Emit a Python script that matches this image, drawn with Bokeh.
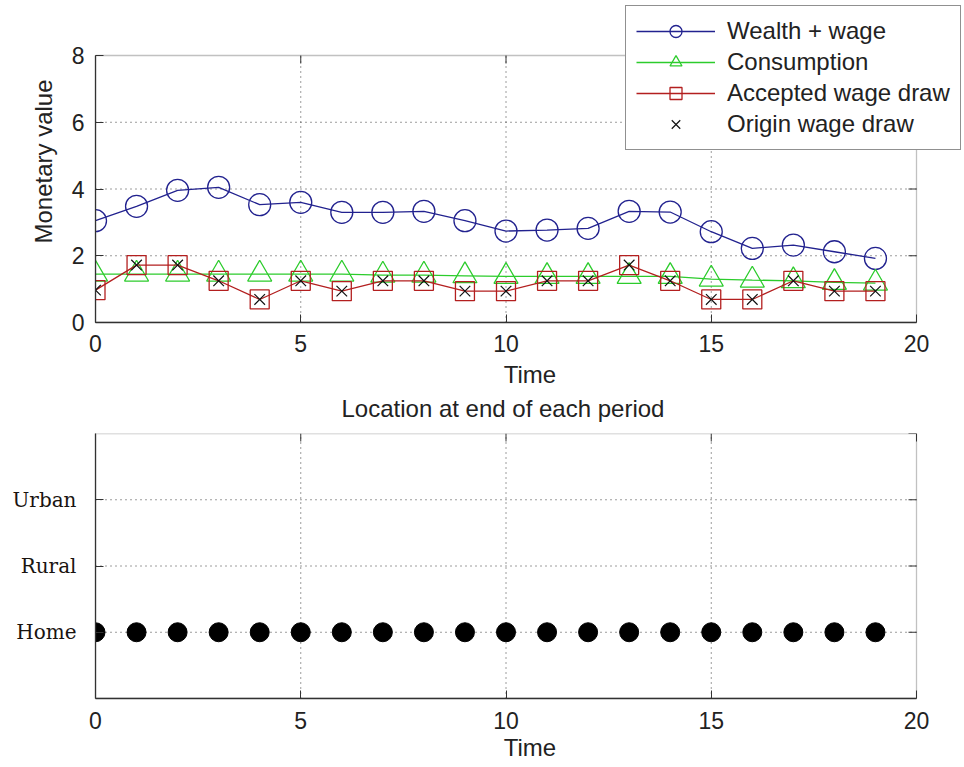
import math
from bokeh.plotting import figure
from bokeh.models import Legend, LegendItem, FixedTicker, Range1d, BoxAnnotation, Title
from bokeh.layouts import column
from bokeh.embed import file_html
from bokeh.resources import INLINE

# ---------------- data ----------------
time = [0, 1, 2, 3, 4, 5, 6, 7, 8, 9, 10, 11, 12, 13, 14, 15, 16, 17, 18, 19]
wealth_wage = [3.05, 3.48, 3.96, 4.05, 3.53, 3.60, 3.30, 3.30, 3.33, 3.05,
               2.74, 2.77, 2.82, 3.33, 3.31, 2.72, 2.22, 2.32, 2.12, 1.92]
consumption = [1.45, 1.45, 1.45, 1.45, 1.45, 1.45, 1.45, 1.42, 1.42, 1.40,
               1.38, 1.38, 1.38, 1.38, 1.38, 1.30, 1.27, 1.25, 1.20, 1.18]
accepted_wage = [0.97, 1.72, 1.72, 1.25, 0.69, 1.25, 0.94, 1.25, 1.25, 0.94,
                 0.94, 1.25, 1.25, 1.72, 1.25, 0.69, 0.69, 1.25, 0.94, 0.94]
origin_wage = [0.97, 1.72, 1.72, 1.25, 0.69, 1.25, 0.94, 1.25, 1.25, 0.94,
               0.94, 1.25, 1.25, 1.72, 1.25, 0.69, 0.69, 1.25, 0.94, 0.94]
location = [1, 1, 1, 1, 1, 1, 1, 1, 1, 1, 1, 1, 1, 1, 1, 1, 1, 1, 1, 1]
x_ticks = [0, 5, 10, 15, 20]
y_ticks_top = [0, 2, 4, 6, 8]
loc_ticks = [1, 2, 3]
loc_labels = ["Home", "Rural", "Urban"]
loc_limits = [0, 4]
series_names = ["Wealth + wage", "Consumption", "Accepted wage draw", "Origin wage draw"]
bottom_title = "Location at end of each period"

BLUE = "#22228f"
GREEN = "#2ccc2c"
RED = "#b31f1f"
FONT = "Liberation Sans"
GRID_COLOR = "#3a3a3a"
AX_COLOR = "#333333"
TXT = "#222222"

# Layout: both frames run to the right edge of the canvas (so the legend,
# which sticks out of the axes box, is not clipped); each axes box spans
# x 0..20 and is drawn as a box annotation.
W = 964
LEFT = 95
BOX_W = 821
frame_w = W - LEFT
x_end = x_ticks[-1] * frame_w / BOX_W


def style_axis(ax):
    ax.major_tick_in = 8
    ax.major_tick_out = 0
    ax.minor_tick_line_color = None
    ax.axis_line_color = AX_COLOR
    ax.axis_line_width = 1.3
    ax.major_tick_line_color = AX_COLOR
    ax.major_label_text_font = FONT
    ax.major_label_text_font_size = "23px"
    ax.major_label_text_color = TXT
    ax.axis_label_text_font = FONT
    ax.axis_label_text_font_size = "24px"
    ax.axis_label_text_font_style = "normal"
    ax.axis_label_text_color = TXT


def box_decor(p, xt, yt):
    """dotted grid, mirrored inward ticks, built from the tick lists"""
    gx = xt[1:-1]
    gy = yt[1:-1]
    p.segment(x0=gx, y0=[yt[0]] * len(gx), x1=gx, y1=[yt[-1]] * len(gx),
              line_color=GRID_COLOR, line_dash="1 4", line_width=1)
    p.segment(x0=[xt[0]] * len(gy), y0=gy, x1=[xt[-1]] * len(gy), y1=gy,
              line_color=GRID_COLOR, line_dash="1 4", line_width=1)
    p.ray(x=[xt[-1]] * len(yt), y=yt, length=8, length_units="screen",
          angle=math.pi, line_color=AX_COLOR, line_width=1)
    p.ray(x=xt, y=[yt[-1]] * len(xt), length=8, length_units="screen",
          angle=-math.pi / 2, line_color=AX_COLOR, line_width=1)


# ---------------- top plot ----------------
P1_H, P1_FRAME_H, BOX1_H = 425, 322, 267
y_end = y_ticks_top[-1] * P1_FRAME_H / BOX1_H

p1 = figure(width=W, height=P1_H, x_range=Range1d(0, x_end), y_range=Range1d(0, y_end),
            output_backend="svg", toolbar_location=None,
            min_border_left=LEFT, min_border_right=0, min_border_top=0,
            min_border_bottom=P1_H - P1_FRAME_H)
p1.background_fill_color = "white"
p1.border_fill_color = "white"
p1.outline_line_color = None
p1.grid.visible = False
p1.xaxis.axis_label = "Time"
p1.yaxis.axis_label = "Monetary value"
for ax in p1.xaxis + p1.yaxis:
    style_axis(ax)
p1.xaxis.ticker = FixedTicker(ticks=x_ticks)
p1.yaxis.ticker = FixedTicker(ticks=y_ticks_top)
p1.xaxis.bounds = (x_ticks[0], x_ticks[-1])
p1.yaxis.bounds = (y_ticks_top[0], y_ticks_top[-1])
p1.xaxis.major_label_standoff = 12
p1.xaxis.axis_label_standoff = 6
p1.yaxis.major_label_standoff = 11
p1.yaxis.axis_label_standoff = 12

box_decor(p1, x_ticks, y_ticks_top)

l_w = p1.line(time, wealth_wage, line_color=BLUE, line_width=1.3)
s_w = p1.scatter(time, wealth_wage, marker="circle", size=22, fill_color=None,
                 line_color=BLUE, line_width=1.3)
l_c = p1.line(time, consumption, line_color=GREEN, line_width=1.3)
s_c = p1.scatter(time, consumption, marker="triangle", size=24, fill_color=None,
                 line_color=GREEN, line_width=1.3)
l_a = p1.line(time, accepted_wage, line_color=RED, line_width=1.3)
s_a = p1.scatter(time, accepted_wage, marker="square", size=19, fill_color=None,
                 line_color=RED, line_width=1.3)
s_o = p1.scatter(time, origin_wage, marker="x", size=15, line_color="#111111", line_width=1.2)

p1.add_layout(BoxAnnotation(left=x_ticks[0], right=x_ticks[-1], bottom=y_ticks_top[0],
                            top=y_ticks_top[-1], fill_alpha=0, line_color=AX_COLOR,
                            line_width=1.3))

legend = Legend(items=[
    LegendItem(label=series_names[0], renderers=[l_w, s_w]),
    LegendItem(label=series_names[1], renderers=[l_c, s_c]),
    LegendItem(label=series_names[2], renderers=[l_a, s_a]),
    LegendItem(label=series_names[3], renderers=[s_o]),
], location=(530, 172), orientation="vertical",
    glyph_width=79, glyph_height=30, spacing=1, padding=10, label_standoff=12,
    label_text_font=FONT, label_text_font_size="24px", label_text_color=TXT,
    border_line_color=TXT, border_line_width=1.2, background_fill_color="white",
    background_fill_alpha=1.0, margin=0)
p1.add_layout(legend, "center")

# title of the lower panel, set below the upper panel's "Time" label
p1.add_layout(Title(text=bottom_title, align="left", offset=246, standoff=4,
                    text_font=FONT, text_font_size="24px", text_font_style="normal",
                    text_color=TXT), "below")

# ---------------- bottom plot ----------------
P2_H = 767 - P1_H
p2 = figure(width=W, height=P2_H, x_range=Range1d(0, x_end),
            y_range=Range1d(loc_limits[0], loc_limits[1]),
            output_backend="svg", toolbar_location=None,
            min_border_left=LEFT, min_border_right=0, min_border_top=433 - P1_H,
            min_border_bottom=69)
p2.background_fill_color = "white"
p2.border_fill_color = "white"
p2.outline_line_color = None
p2.grid.visible = False
p2.xaxis.axis_label = "Time"
for ax in p2.xaxis + p2.yaxis:
    style_axis(ax)
p2.xaxis.ticker = FixedTicker(ticks=x_ticks)
p2.yaxis.ticker = FixedTicker(ticks=loc_ticks)
p2.xaxis.bounds = (x_ticks[0], x_ticks[-1])
p2.yaxis.bounds = (loc_limits[0], loc_limits[1])
p2.xaxis.major_label_standoff = 13
p2.xaxis.axis_label_standoff = 2
p2.yaxis.major_label_overrides = {t: lab for t, lab in zip(loc_ticks, loc_labels)}
p2.yaxis.major_label_text_font = "DejaVu Serif"
p2.yaxis.major_label_text_font_size = "20px"
p2.yaxis.major_label_text_color = "#1a1410"
p2.yaxis.major_label_standoff = 19

box_decor(p2, x_ticks, [loc_limits[0]] + loc_ticks + [loc_limits[1]])

p2.scatter(time, location, marker="circle", size=19, fill_color="black", line_color="black")

p2.add_layout(BoxAnnotation(left=x_ticks[0], right=x_ticks[-1], bottom=loc_limits[0],
                            top=loc_limits[1], fill_alpha=0, line_color=AX_COLOR,
                            line_width=1.3))

layout = column(p1, p2, spacing=0)
open("out.html", "w").write(file_html(layout, INLINE))
